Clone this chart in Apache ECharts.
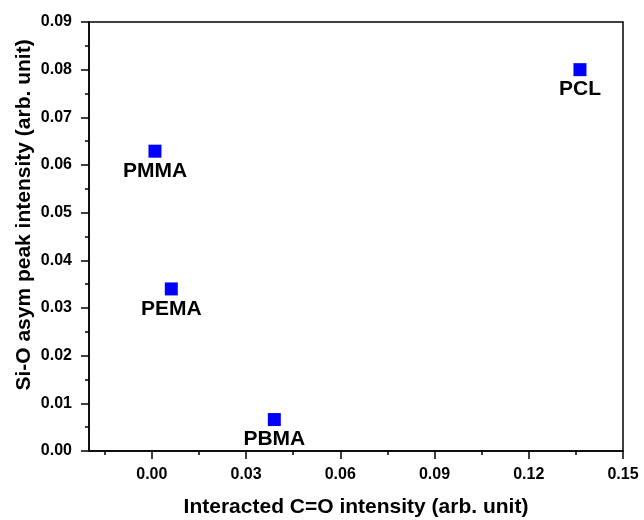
<!DOCTYPE html>
<html><head><meta charset="utf-8">
<script src="https://cdn.jsdelivr.net/npm/echarts@6/dist/echarts.min.js"></script>
<style>html,body{margin:0;padding:0;background:#fff}#c{width:644px;height:520px}</style>
</head><body><div id="c"></div>
<script>
const names = ['PCL', 'PMMA', 'PEMA', 'PBMA'];
const xValues = [0.1363, 0.0010, 0.0062, 0.0390];
const yValues = [0.0800, 0.0629, 0.0340, 0.0066];
const xTicks = [0.00, 0.03, 0.06, 0.09, 0.12, 0.15];
const xMinorTicks = [-0.015, 0.015, 0.045, 0.075, 0.105, 0.135];
const xTitle = 'Interacted C=O intensity (arb. unit)';
const yTitle = 'Si-O asym peak intensity (arb. unit)';

const font = 'Liberation Sans, Arial, sans-serif';
const chart = echarts.init(document.getElementById('c'));
chart.setOption({
  animation: false,
  backgroundColor: '#fff',
  grid: {left: 89, right: 21, top: 22, bottom: 69, show: true, borderColor: '#000', borderWidth: 1.5,
    containLabel: false, outerBoundsMode: 'none'},
  graphic: [{
    type: 'text', rotation: Math.PI / 2, x: 24, y: 215,
    style: {text: yTitle, fontFamily: font, fontWeight: 'bold', fontSize: 21, fill: '#000',
      align: 'center', verticalAlign: 'middle'}
  }],
  xAxis: [{
    type: 'value', min: -0.02, max: 0.15,
    name: xTitle, nameLocation: 'middle', nameGap: 46,
    nameTextStyle: {fontFamily: font, fontWeight: 'bold', fontSize: 21, color: '#000'},
    axisLine: {show: true, onZero: false, lineStyle: {color: '#000', width: 1.5}},
    axisTick: {show: true, inside: false, length: 8, customValues: xTicks, lineStyle: {color: '#000', width: 1.5}},
    minorTick: {show: false},
    axisLabel: {customValues: xTicks, fontFamily: font, fontWeight: 'bold', fontSize: 16, color: '#000', margin: 16,
      formatter: v => v.toFixed(2)},
    splitLine: {show: false}
  }, {
    type: 'value', min: -0.02, max: 0.15, position: 'bottom',
    axisLine: {show: false, onZero: false},
    axisTick: {show: true, length: 4, customValues: xMinorTicks, lineStyle: {color: '#000', width: 1.5}},
    axisLabel: {show: false}, splitLine: {show: false}
  }],
  yAxis: [{
    type: 'value', min: 0, max: 0.09, interval: 0.01,
    axisLine: {show: true, onZero: false, lineStyle: {color: '#000', width: 1.5}},
    axisTick: {show: true, length: 8, lineStyle: {color: '#000', width: 1.5}},
    minorTick: {show: true, splitNumber: 2, length: 4, lineStyle: {color: '#000', width: 1.5}},
    axisLabel: {fontFamily: font, fontWeight: 'bold', fontSize: 16, color: '#000', margin: 17,
      formatter: v => v.toFixed(2)},
    splitLine: {show: false}
  }],
  series: [{
    type: 'scatter', symbol: 'rect', symbolSize: 13,
    itemStyle: {color: '#0000ff', opacity: 1},
    data: names.map((n, i) => ({name: n, value: [xValues[i], yValues[i]]})),
    label: {show: true, position: 'bottom', distance: 3, formatter: p => p.name,
      fontFamily: font, fontWeight: 'bold', fontSize: 21, color: '#000'}
  }]
});
</script></body></html>
